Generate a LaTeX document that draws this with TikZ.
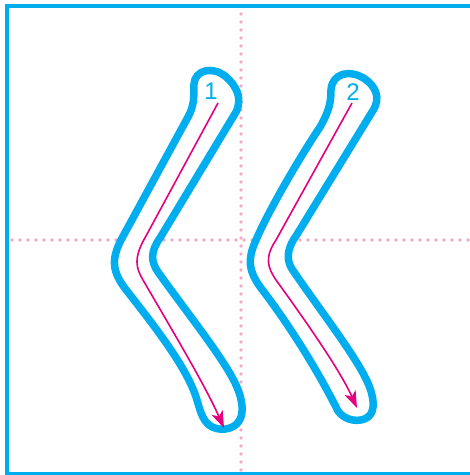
\documentclass[tikz,border=0pt]{standalone}
\usepackage{fontspec}
\setmainfont{Liberation Sans}
\usetikzlibrary{arrows.meta}
\definecolor{cyanb}{HTML}{00AEEF}
\definecolor{pinkdot}{HTML}{F5A9CA}
\definecolor{magen}{HTML}{E4007F}
\tikzset{
  guide/.style={pinkdot,line width=3.8pt,line cap=round,dash pattern=on 0pt off 8pt},
  strokeshape/.style={draw=cyanb,fill=white,line width=7.5pt,line join=round},
  order/.style={magen,line width=1.6pt,-{Stealth[length=17pt,width=12pt,inset=4.5pt]}},
  numlabel/.style={text=cyanb,font=\fontsize{24}{24}\selectfont,inner sep=0pt}
}
\begin{document}
\begin{tikzpicture}[x=1pt,y=-1pt]
\useasboundingbox (0,0) rectangle (470,475);
% frame
\draw[cyanb,line width=4pt] (478,5.5) -- (6.5,5.5) -- (6.5,473.5) -- (478,473.5);
% guides
\draw[guide] (241,14) -- (241,475);
\draw[guide] (12,240) -- (470,240);
% stroke 1
\draw[strokeshape] (194,84) .. controls (195,70) and (212,66) .. (225,76)
  .. controls (236,85) and (243,98) .. (236,112)
  -- (160,238) .. controls (150,252) and (151,262) .. (158,272)
  .. controls (185,310) and (225,360) .. (236,385)
  .. controls (243,400) and (244,414) .. (239,421)
  .. controls (234,430) and (218,432) .. (209,425)
  .. controls (202,419) and (200,410) .. (197,400)
  .. controls (188,370) and (160,333) .. (127,291)
  .. controls (112,272) and (111,260) .. (121,240)
  -- (188,117) .. controls (194,106) and (194,98) .. cycle;
% stroke 2
\draw[strokeshape] (331,90) .. controls (332,73) and (350,69) .. (365,79)
  .. controls (375,86) and (382,98) .. (372,112)
  -- (296,236) .. controls (286,250) and (286,262) .. (294,272)
  .. controls (320,310) and (355,355) .. (367,381)
  .. controls (374,396) and (376,411) .. (368,417)
  .. controls (360,423) and (345,421) .. (338,411)
  .. controls (325,385) and (300,340) .. (264,292)
  .. controls (248,272) and (247,260) .. (256,240)
  .. controls (268,212) and (298,160) .. (320,127)
  .. controls (330,110) and (331,100) .. cycle;
% order arrows
\coordinate (a1s) at (218,103);
\coordinate (a1e) at (224,428);
\coordinate (a2s) at (352,103);
\coordinate (a2e) at (357,408);
\draw[order] (a1s) -- (146,236) .. controls (133,258) and (136,268) .. (143,280) .. controls (172,330) and (205,385) .. (a1e);
\draw[order] (a2s) -- (276,240) .. controls (264,258) and (268,268) .. (276,280) .. controls (305,320) and (340,370) .. (a2e);
% labels
\node[numlabel] (n1) at (211,91) {1};
\node[numlabel] (n2) at (353,92) {2};
\end{tikzpicture}
\end{document}
